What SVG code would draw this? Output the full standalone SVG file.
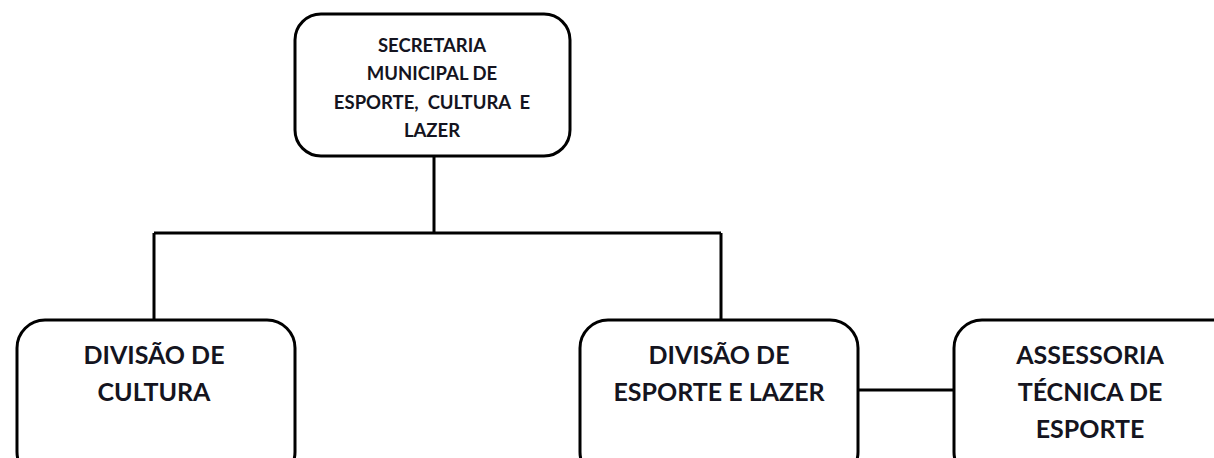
<svg xmlns="http://www.w3.org/2000/svg" width="1214" height="458" viewBox="0 0 1214 458">
<style>
.box{fill:#fff;stroke:#000;stroke-width:3}
.ln{fill:none;stroke:#000;stroke-width:3}
.t{font-family:Lato,"Open Sans","Liberation Sans",sans-serif;font-weight:bold;fill:#141420;text-anchor:middle;white-space:pre}
.s{font-size:18.5px}
.b{font-size:25px}
</style>
<rect width="1214" height="458" fill="#fff"/>
<g id="connectors">
<path class="ln" d="M434 156 V233 M154 233 H721 M154 233 V320 M721 233 V320 M858 390 H954"/>
</g>
<g id="secretaria">
<rect class="box" x="295" y="14" width="275" height="142" rx="26"/>
<text class="t s" x="432" y="52">SECRETARIA</text>
<text class="t s" x="432" y="80">MUNICIPAL DE</text>
<text class="t s" x="432" y="109">ESPORTE,  CULTURA  E</text>
<text class="t s" x="432" y="137">LAZER</text>
</g>
<g id="cultura">
<rect class="box" x="17" y="320" width="278" height="160" rx="28"/>
<text class="t b" x="154" y="364">DIVISÃO DE</text>
<text class="t b" x="154" y="401">CULTURA</text>
</g>
<g id="esporte">
<rect class="box" x="580" y="320" width="278" height="160" rx="28"/>
<text class="t b" x="719" y="364">DIVISÃO DE</text>
<text class="t b" x="719" y="401">ESPORTE E LAZER</text>
</g>
<g id="assessoria">
<rect class="box" x="954" y="320" width="290" height="160" rx="28"/>
<text class="t b" x="1090" y="364">ASSESSORIA</text>
<text class="t b" x="1090" y="401">TÉCNICA DE</text>
<text class="t b" x="1090" y="438">ESPORTE</text>
</g>
</svg>
